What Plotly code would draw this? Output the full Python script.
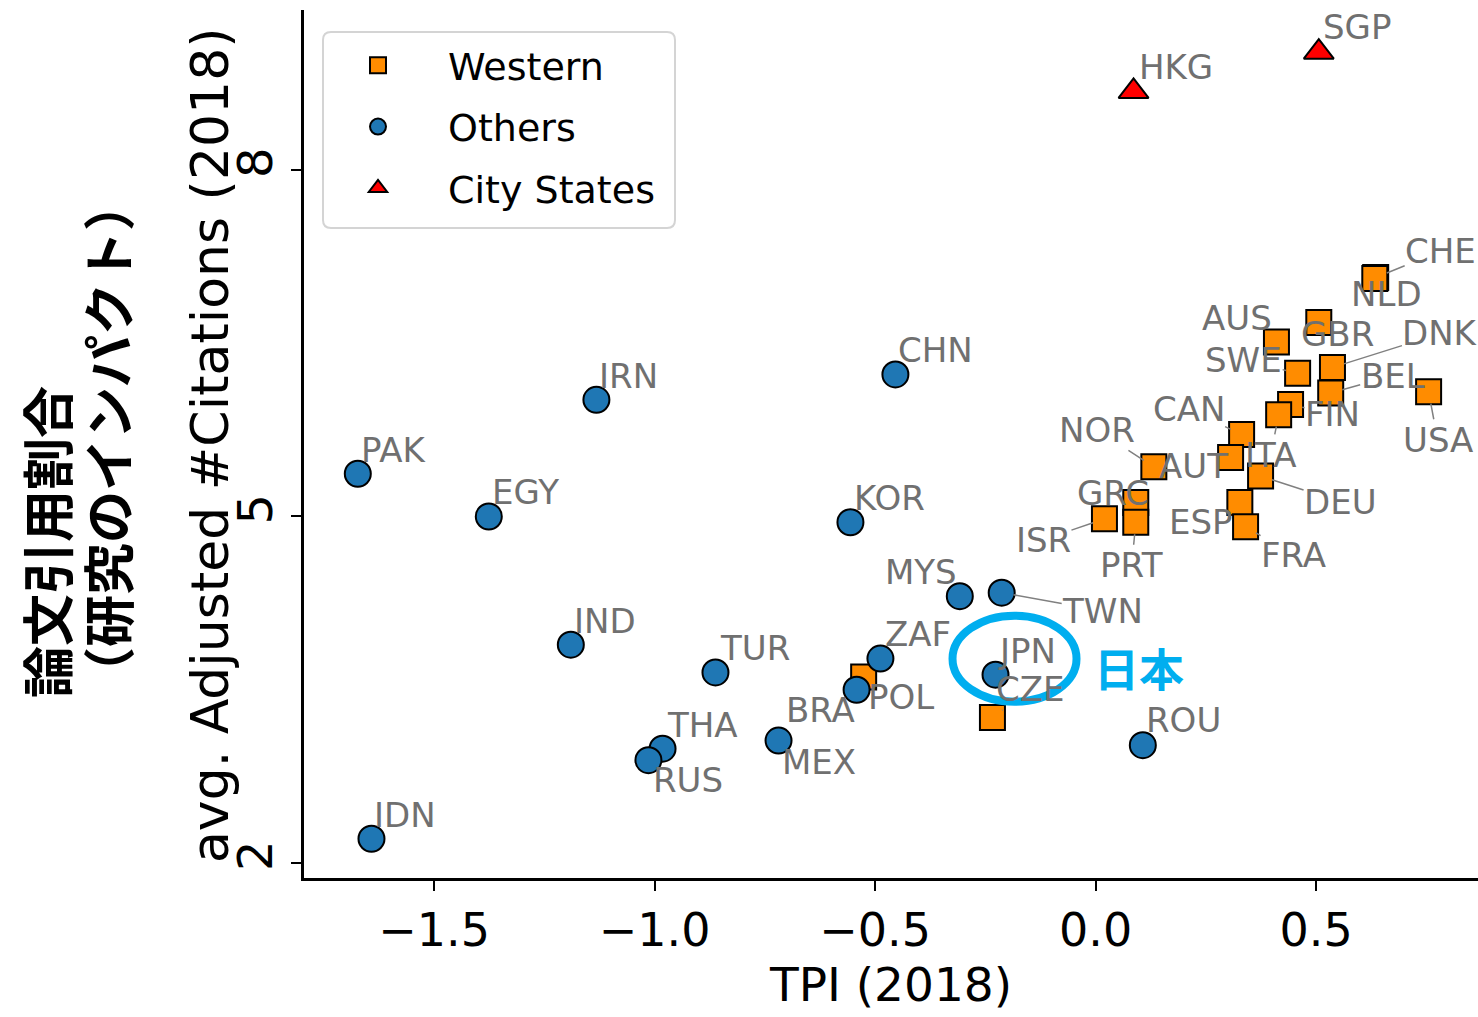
import plotly.graph_objects as go

# ---------------- data ----------------
codes_w = ["CHE", "NLD", "GBR", "AUS", "SWE", "DNK", "BEL", "FIN", "USA", "ITA", "CAN",
           "NOR", "AUT", "DEU", "ESP", "FRA", "GRC", "PRT", "ISR", "POL", "CZE"]
tpi_w = [0.635, 0.633, 0.506, 0.410, 0.458, 0.537, 0.533, 0.442, 0.755, 0.415, 0.331,
         0.132, 0.306, 0.374, 0.327, 0.340, 0.091, 0.091, 0.020, -0.526, -0.234]
cit_w = [7.07, 7.06, 6.68, 6.51, 6.24, 6.29, 6.07, 5.97, 6.08, 5.88, 5.71,
         5.43, 5.51, 5.35, 5.12, 4.91, 5.12, 4.95, 4.98, 3.61, 3.26]

codes_o = ["PAK", "IDN", "EGY", "IRN", "IND", "TUR", "THA", "RUS", "MEX", "BRA", "ZAF",
           "KOR", "CHN", "MYS", "TWN", "JPN", "ROU"]
tpi_o = [-1.673, -1.642, -1.376, -1.132, -1.190, -0.862, -0.982, -1.014, -0.719, -0.542, -0.488,
         -0.556, -0.454, -0.308, -0.213, -0.227, 0.107]
cit_o = [5.37, 2.21, 5.00, 6.01, 3.89, 3.65, 2.99, 2.89, 3.06, 3.50, 3.77,
         4.95, 6.23, 4.31, 4.34, 3.63, 3.02]

codes_c = ["HKG", "SGP"]
tpi_c = [0.086, 0.506]
cit_c = [8.68, 9.02]

x_ticks = [-1.5, -1.0, -0.5, 0.0, 0.5]
y_ticks = [2, 5, 8]

# ---------------- label placement (pixel offsets of text centre) ----------------
label_offsets = {
    "PAK": (36, -24), "IDN": (34, -24), "EGY": (37, -24), "IRN": (32, -24), "IND": (34, -24),
    "TUR": (40, -24), "THA": (40, -24), "RUS": (40, 20), "MEX": (40, 21), "BRA": (-36, 20),
    "ZAF": (38, -25), "POL": (37, 20), "KOR": (39, -24), "CHN": (40, -24), "MYS": (-39, -24),
    "TWN": (101, 18), "JPN": (31, -24), "CZE": (38, -28), "ROU": (41, -25),
    "HKG": (42, -24), "SGP": (38, -25),
    "CHE": (65, -26), "NLD": (12, 15), "GBR": (19, 12), "AUS": (-39, -24), "SWE": (-54, -13),
    "DNK": (108, -34), "BEL": (62, -17), "FIN": (42, 10), "USA": (9, 48), "ITA": (-8, 40),
    "CAN": (-53, -25), "NOR": (-57, -37), "AUT": (-37, 8), "DEU": (80, 26), "GRC": (-23, -10),
    "ESP": (-39, 19), "FRA": (48, 28), "PRT": (-4, 43), "ISR": (-61, 21),
}

FONT = "DejaVu Sans"
LABEL_COLOR = "#707070"
PLOT_L, PLOT_T, PLOT_W, PLOT_H = 304, 10, 1174, 868


def px_to_paper(px, py):
    return (px - PLOT_L) / PLOT_W, (PLOT_T + PLOT_H - py) / PLOT_H


fig = go.Figure()
fig.add_trace(go.Scatter(
    x=tpi_w, y=cit_w, mode="markers", name="Western", legendgroup="w",
    marker=dict(symbol="square", size=25, color="#ff8c00", line=dict(color="black", width=2)),
))
fig.add_trace(go.Scatter(
    x=tpi_o, y=cit_o, mode="markers", name="Others", legendgroup="o",
    marker=dict(symbol="circle", size=26, color="#1f77b4", line=dict(color="black", width=2)),
))
fig.add_trace(go.Scatter(
    x=tpi_c, y=cit_c, mode="markers", name="City States", legendgroup="c",
    marker=dict(symbol="triangle-up", size=26, color="#ff0000", line=dict(color="black", width=2)),
))

annotations = []
for codes, xs, ys in [(codes_w, tpi_w, cit_w), (codes_o, tpi_o, cit_o), (codes_c, tpi_c, cit_c)]:
    for c, xv, yv in zip(codes, xs, ys):
        dx, dy = label_offsets[c]
        annotations.append(dict(
            x=xv, y=yv, xref="x", yref="y", text=c, showarrow=True,
            ax=dx, ay=dy, arrowhead=0, arrowwidth=1.5, arrowcolor="#808080",
            standoff=12, font=dict(family=FONT, size=34, color=LABEL_COLOR),
            borderpad=0,
        ))

# Japan highlight
jx = tpi_o[codes_o.index("JPN")]
jy = cit_o[codes_o.index("JPN")]
annotations.append(dict(
    x=jx, y=jy, xref="x", yref="y", text="日本", showarrow=False,
    xshift=143, yshift=7,
    font=dict(family="Noto Sans CJK JP", size=45, color="#00aeef", weight="bold"),
))

# y-axis titles
yt_x, yt_y = px_to_paper(210, 445)
annotations.append(dict(
    x=yt_x, y=yt_y, xref="paper", yref="paper", text="avg. Adjusted #Citations (2018)",
    textangle=-90, showarrow=False, xanchor="center", yanchor="middle",
    font=dict(family=FONT, size=52, color="black"),
))
j1x, j1y = px_to_paper(45, 700)
annotations.append(dict(
    x=j1x, y=j1y, xref="paper", yref="paper", text="論文引用割合",
    textangle=-90, showarrow=False, xanchor="center", yanchor="bottom",
    font=dict(family="Noto Sans CJK JP", size=52, color="black", weight="bold"),
))
j2x, j2y = px_to_paper(106, 701)
annotations.append(dict(
    x=j2x, y=j2y, xref="paper", yref="paper", text="（研究のインパクト）",
    textangle=-90, showarrow=False, xanchor="center", yanchor="bottom",
    font=dict(family="Noto Sans CJK JP", size=52, color="black", weight="bold"),
))

fig.add_shape(
    type="circle", xref="x", yref="y", xsizemode="pixel", ysizemode="pixel",
    xanchor=jx, yanchor=jy, x0=-43, x1=81, y0=-27, y1=59,
    line=dict(color="#00aeef", width=8),
)

# legend frame (rounded rectangle)
bx0, by0, bx1, by1, r = 323, 32, 675, 228, 8
def P(px, py):
    a, b = px_to_paper(px, py)
    return f"{a:.5f},{b:.5f}"
path = (f"M {P(bx0 + r, by0)} L {P(bx1 - r, by0)} Q {P(bx1, by0)} {P(bx1, by0 + r)} "
        f"L {P(bx1, by1 - r)} Q {P(bx1, by1)} {P(bx1 - r, by1)} "
        f"L {P(bx0 + r, by1)} Q {P(bx0, by1)} {P(bx0, by1 - r)} "
        f"L {P(bx0, by0 + r)} Q {P(bx0, by0)} {P(bx0 + r, by0)} Z")
fig.add_shape(type="path", xref="paper", yref="paper", path=path,
              line=dict(color="#d4d4d4", width=2), fillcolor="white", layer="above")

lx, ly = px_to_paper(308, 34)
fig.update_layout(
    width=1478, height=1017,
    margin=dict(l=PLOT_L, r=0, t=PLOT_T, b=1017 - PLOT_T - PLOT_H, pad=0),
    paper_bgcolor="white", plot_bgcolor="white",
    font=dict(family=FONT, color="black"),
    showlegend=True,
    legend=dict(
        x=lx, y=ly, xanchor="left", yanchor="top",
        font=dict(family=FONT, size=38, color="black"),
        borderwidth=0, bgcolor="rgba(0,0,0,0)",
        tracegroupgap=9, itemwidth=130,
    ),
    annotations=annotations,
    xaxis=dict(
        range=[-1.795, 0.867], tickvals=x_ticks, tickformat=".1f",
        showgrid=False, zeroline=False, showline=True, linecolor="black", linewidth=2.5,
        ticks="outside", ticklen=10, tickwidth=2, tickcolor="black",
        tickfont=dict(family=FONT, size=46, color="black"),
        title=dict(text="TPI (2018)", font=dict(family=FONT, size=47, color="black"), standoff=8),
        automargin=False,
    ),
    yaxis=dict(
        range=[1.870, 9.385], tickvals=y_ticks,
        showgrid=False, zeroline=False, showline=True, linecolor="black", linewidth=2.5,
        ticks="outside", ticklen=10, tickwidth=2, tickcolor="black", tickangle=-90,
        tickfont=dict(family=FONT, size=48, color="black"),
        automargin=False,
    ),
)

fig.write_html("out.html")
